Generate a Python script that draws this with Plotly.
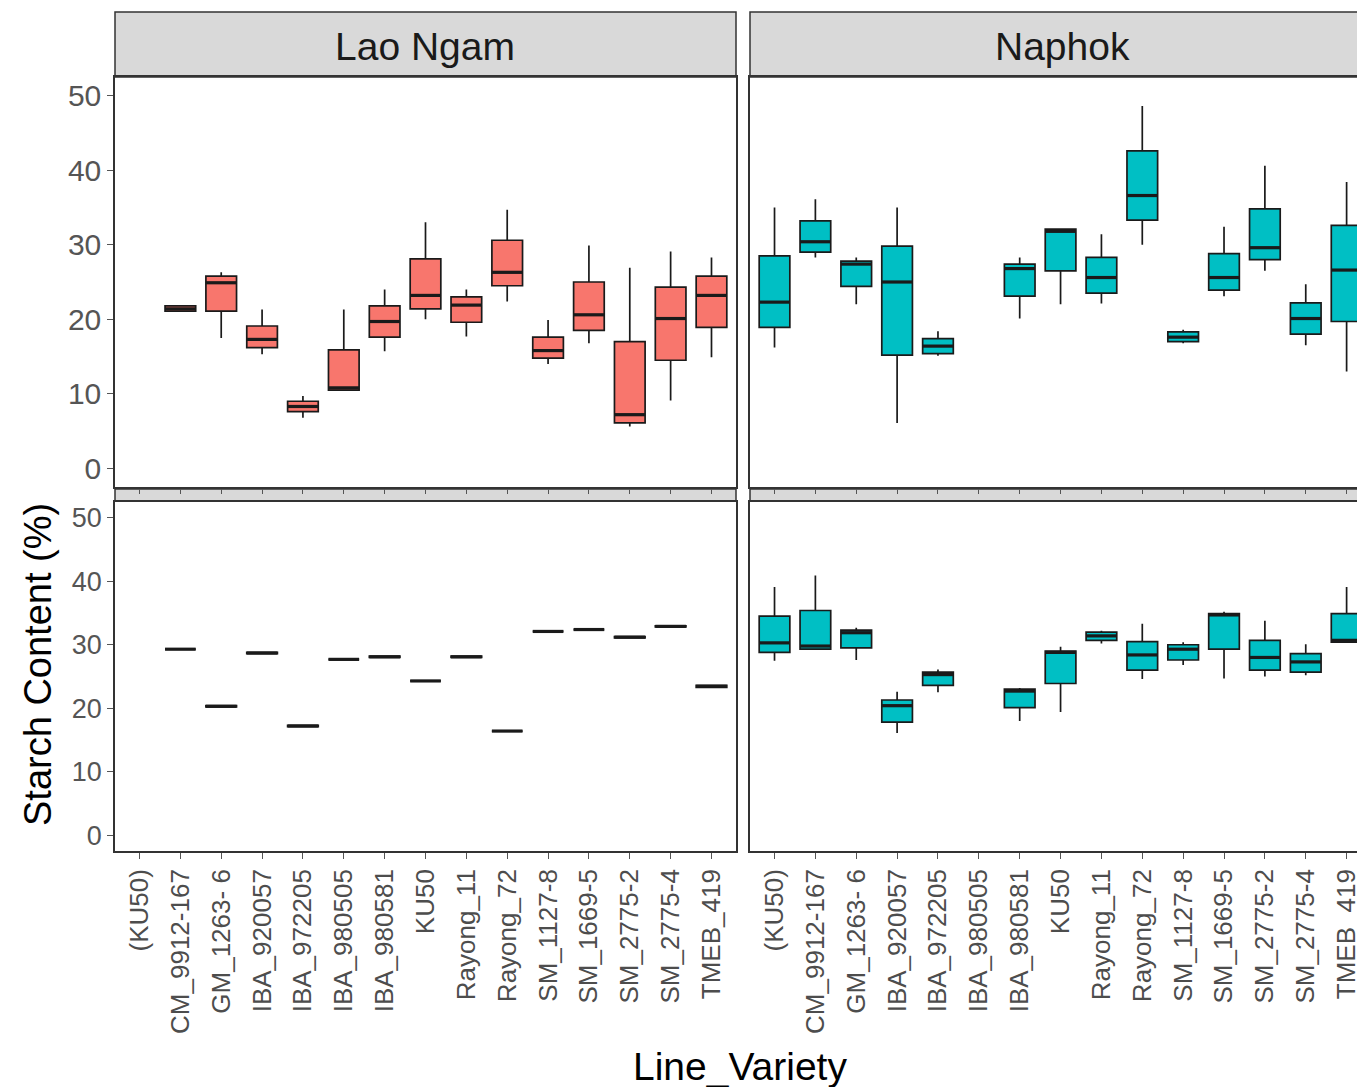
import plotly.graph_objects as go

CATEGORIES = ["(KU50)", "CM_9912-167", "GM_1263- 6", "IBA_920057", "IBA_972205",
              "IBA_980505", "IBA_980581", "KU50", "Rayong_11", "Rayong_72",
              "SM_1127-8", "SM_1669-5", "SM_2775-2", "SM_2775-4", "TMEB_419"]
FACETS = ["Lao Ngam", "Naphok"]
Y_TICKS = [0, 10, 20, 30, 40, 50]

# Lao Ngam, top row
LN_TOP_LOW = [None, 21.0, 17.5, 15.3, 6.8, 10.4, 15.7, 20.0, 17.7, 22.4, 14.0, 16.8, 5.6, 9.1, 14.9]
LN_TOP_Q1 = [None, 21.1, 21.1, 16.2, 7.6, 10.5, 17.6, 21.4, 19.6, 24.5, 14.8, 18.5, 6.1, 14.5, 18.9]
LN_TOP_MED = [None, 21.4, 24.9, 17.3, 8.3, 10.8, 19.7, 23.2, 21.9, 26.3, 15.8, 20.6, 7.2, 20.1, 23.2]
LN_TOP_Q3 = [None, 21.8, 25.8, 19.1, 9.0, 15.9, 21.8, 28.1, 23.0, 30.6, 17.6, 25.0, 17.0, 24.3, 25.8]
LN_TOP_HIGH = [None, 21.9, 26.3, 21.3, 9.7, 21.3, 24.0, 33.0, 24.0, 34.7, 19.9, 29.9, 26.9, 29.1, 28.3]

# Naphok, top row
NP_TOP_LOW = [16.2, 28.3, 22.0, 6.1, 15.1, None, 20.1, 22.0, 22.1, 30.0, 16.8, 23.1, 26.5, 16.5, 13.0]
NP_TOP_Q1 = [18.9, 29.0, 24.4, 15.2, 15.4, None, 23.1, 26.5, 23.5, 33.3, 17.0, 23.9, 28.0, 18.0, 19.7]
NP_TOP_MED = [22.3, 30.4, 27.4, 25.0, 16.4, None, 26.8, 31.8, 25.6, 36.6, 17.6, 25.6, 29.6, 20.1, 26.6]
NP_TOP_Q3 = [28.5, 33.2, 27.8, 29.8, 17.4, None, 27.4, 32.1, 28.3, 42.6, 18.3, 28.8, 34.8, 22.2, 32.6]
NP_TOP_HIGH = [35.0, 36.1, 28.3, 35.0, 18.4, None, 28.3, 32.1, 31.4, 48.6, 18.6, 32.4, 40.6, 24.7, 38.4]

# Lao Ngam, bottom row
LN_BOT_LOW = [None, 29.3, 20.2, 28.6, 17.1, 27.7, 28.0, 24.3, 28.0, 16.4, 32.1, 32.4, 31.1, 32.8, 23.3]
LN_BOT_Q1 = [None, 29.3, 20.2, 28.6, 17.1, 27.7, 28.0, 24.3, 28.0, 16.4, 32.1, 32.4, 31.1, 32.8, 23.3]
LN_BOT_MED = [None, 29.3, 20.3, 28.7, 17.2, 27.7, 28.1, 24.3, 28.1, 16.4, 32.1, 32.4, 31.2, 32.9, 23.45]
LN_BOT_Q3 = [None, 29.3, 20.4, 28.8, 17.3, 27.7, 28.2, 24.3, 28.2, 16.4, 32.1, 32.4, 31.3, 33.0, 23.6]
LN_BOT_HIGH = [None, 29.3, 20.4, 28.8, 17.3, 27.7, 28.2, 24.3, 28.2, 16.4, 32.1, 32.4, 31.3, 33.0, 23.6]

# Naphok, bottom row
NP_BOT_LOW = [27.5, 29.3, 27.6, 16.1, 22.5, None, 18.0, 19.4, 30.2, 24.6, 26.8, 24.7, 25.0, 25.2, 30.4]
NP_BOT_Q1 = [28.8, 29.3, 29.5, 17.8, 23.6, None, 20.1, 23.9, 30.7, 26.0, 27.6, 29.3, 26.0, 25.7, 30.4]
NP_BOT_MED = [30.3, 29.8, 31.9, 20.4, 25.3, None, 22.7, 28.8, 31.4, 28.4, 29.3, 34.7, 28.0, 27.3, 30.7]
NP_BOT_Q3 = [34.5, 35.4, 32.3, 21.3, 25.7, None, 23.0, 29.0, 32.0, 30.5, 30.0, 34.9, 30.7, 28.6, 34.9]
NP_BOT_HIGH = [39.1, 40.9, 32.7, 22.6, 26.1, None, 23.2, 29.7, 32.2, 33.3, 30.4, 35.2, 33.8, 30.1, 39.1]

COLORS = ["#F8766D", "#00BFC4"]
BOX_WIDTH = 0.75

FONT = "Liberation Sans, Arial, sans-serif"
OFF = 8  # page body margin
W, H = 1365 - OFF, 1087 - OFF
ML, MR, MT = 115 - OFF, 0, 0
PLOT_BOTTOM = 851  # page y of plot-area bottom
MB = H - (PLOT_BOTTOM - OFF)
PW = W - ML - MR
PH = H - MT - MB


def px_x(x):
    return (x - OFF - ML) / PW


def px_y(y):
    return (PLOT_BOTTOM - y) / PH


fig = go.Figure()

panels = [
    ("x", "y", LN_TOP_LOW, LN_TOP_Q1, LN_TOP_MED, LN_TOP_Q3, LN_TOP_HIGH, COLORS[0]),
    ("x2", "y2", NP_TOP_LOW, NP_TOP_Q1, NP_TOP_MED, NP_TOP_Q3, NP_TOP_HIGH, COLORS[1]),
    ("x3", "y3", LN_BOT_LOW, LN_BOT_Q1, LN_BOT_MED, LN_BOT_Q3, LN_BOT_HIGH, COLORS[0]),
    ("x4", "y4", NP_BOT_LOW, NP_BOT_Q1, NP_BOT_MED, NP_BOT_Q3, NP_BOT_HIGH, COLORS[1]),
]

shapes = []
for xa, ya, lo, q1, me, q3, hi, col in panels:
    idx = [i for i, v in enumerate(me) if v is not None]
    fig.add_trace(go.Box(
        x=[CATEGORIES[i] for i in idx],
        lowerfence=[lo[i] for i in idx],
        q1=[q1[i] for i in idx],
        median=[me[i] for i in idx],
        q3=[q3[i] for i in idx],
        upperfence=[hi[i] for i in idx],
        fillcolor=col,
        line=dict(color="#1a1a1a", width=1.7),
        whiskerwidth=0,
        width=BOX_WIDTH,
        boxpoints=False,
        showlegend=False,
        xaxis=xa, yaxis=ya,
    ))
    # thicker median bar (ggplot style), placed on the axis' own category scale
    for i in idx:
        shapes.append(dict(type="line", xref=xa, yref=ya,
                           x0=i - BOX_WIDTH / 2, x1=i + BOX_WIDTH / 2,
                           y0=me[i], y1=me[i],
                           line=dict(color="#1a1a1a", width=3.2), layer="above"))

left_dom = [0, px_x(736)]
right_dom = [px_x(750), 1.0]
top_dom = [px_y(487), px_y(77)]
bot_dom = [0, px_y(502)]

axis_line = dict(showline=True, linecolor="#333333", linewidth=1.5,
                 showgrid=False, zeroline=False, ticks="outside",
                 tickcolor="#555555", ticklen=6, tickwidth=1.2)

xbase = dict(axis_line, type="category", categoryorder="array",
             categoryarray=CATEGORIES)

layout = dict(
    width=W, height=H,
    margin=dict(l=ML, r=MR, t=MT, b=MB),
    paper_bgcolor="white", plot_bgcolor="white",
    font=dict(family=FONT),
    xaxis=dict(xbase, domain=left_dom, range=[-0.6, 14.6], anchor="y",
               showticklabels=False, mirror=True, ticklen=5),
    xaxis2=dict(xbase, domain=right_dom, range=[-0.6, 14.45], anchor="y2",
                showticklabels=False, mirror=True, ticklen=5),
    xaxis3=dict(xbase, domain=left_dom, range=[-0.6, 14.6], anchor="y3",
                mirror=True, tickangle=-90,
                tickfont=dict(size=26, color="#4d4d4d", family=FONT)),
    xaxis4=dict(xbase, domain=right_dom, range=[-0.6, 14.45], anchor="y4",
                mirror=True, tickangle=-90,
                tickfont=dict(size=26, color="#4d4d4d", family=FONT)),
    yaxis=dict(axis_line, domain=top_dom, range=[-2.5, 52.5], anchor="x",
               tickvals=Y_TICKS, mirror=True,
               tickfont=dict(size=30, color="#555555", family=FONT)),
    yaxis2=dict(axis_line, domain=top_dom, range=[-2.5, 52.5], anchor="x2",
                tickvals=Y_TICKS, showticklabels=False, ticks=""),
    yaxis3=dict(axis_line, domain=bot_dom, range=[-2.5, 52.5], anchor="x3",
                tickvals=Y_TICKS, mirror=True,
                tickfont=dict(size=27, color="#555555", family=FONT)),
    yaxis4=dict(axis_line, domain=bot_dom, range=[-2.5, 52.5], anchor="x4",
                tickvals=Y_TICKS, showticklabels=False, ticks=""),
)

for x0, x1 in [(left_dom[0], left_dom[1]), (right_dom[0], 1.02)]:
    shapes.append(dict(type="rect", xref="paper", yref="paper",
                       x0=x0, x1=x1, y0=top_dom[1], y1=px_y(12),
                       fillcolor="#D9D9D9", line=dict(color="#333333", width=1.5),
                       layer="below"))
    shapes.append(dict(type="rect", xref="paper", yref="paper",
                       x0=x0, x1=x1, y0=px_y(501), y1=px_y(489),
                       fillcolor="#D9D9D9", line=dict(color="#333333", width=1.5),
                       layer="below"))
layout["shapes"] = shapes

annotations = [
    dict(text=FACETS[0], xref="paper", yref="paper", x=px_x(425), y=px_y(47),
         xanchor="center", yanchor="middle", showarrow=False,
         font=dict(size=39, color="#1a1a1a", family=FONT)),
    dict(text=FACETS[1], xref="paper", yref="paper", x=px_x(1062), y=px_y(47),
         xanchor="center", yanchor="middle", showarrow=False,
         font=dict(size=39, color="#1a1a1a", family=FONT)),
    dict(text="Starch Content (%)", xref="paper", yref="paper",
         x=px_x(38), y=px_y(665), xanchor="center", yanchor="middle",
         textangle=-90, showarrow=False,
         font=dict(size=38, color="#000000", family=FONT)),
    dict(text="Line_Variety", xref="paper", yref="paper",
         x=px_x(740), y=px_y(1066), xanchor="center", yanchor="middle",
         showarrow=False,
         font=dict(size=39, color="#000000", family=FONT)),
]
layout["annotations"] = annotations

fig.update_layout(**layout)
fig.write_html("out.html")
